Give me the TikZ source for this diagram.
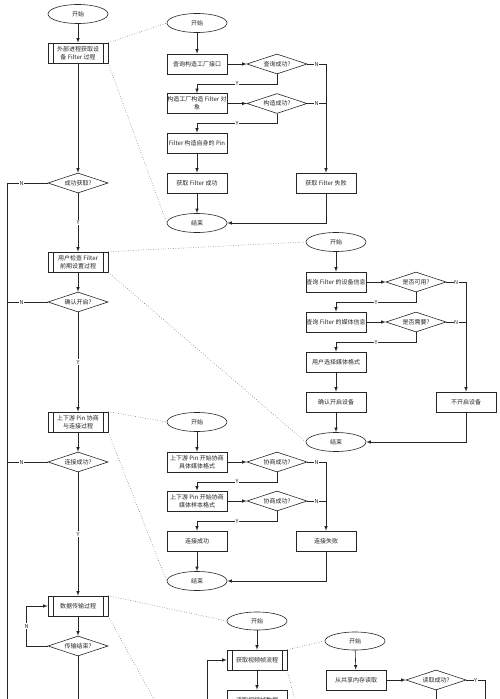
\documentclass[tikz,border=0pt]{standalone}
\usepackage{fontspec}
\newfontfamily\cjk{Noto Sans CJK SC}
\usetikzlibrary{
  shapes.geometric,%
  arrows,
  calc
}
\tikzset{>=latex}
\tikzset{
  proc/.style={draw, rectangle, minimum width=60pt, minimum height=20pt,
    inner sep=0.5pt, align=center, fill=white},
  subproc/.style={proc, path picture={
      \draw ([xshift=5pt]path picture bounding box.north west)
        -- ([xshift=5pt]path picture bounding box.south west);
      \draw ([xshift=-5pt]path picture bounding box.north east)
        -- ([xshift=-5pt]path picture bounding box.south east);}},
  term/.style={draw, ellipse, minimum width=60pt, minimum height=19pt, inner sep=0pt},
  decide/.style={draw, diamond, aspect=3, minimum width=60pt, minimum height=20pt,
    inner sep=0pt},
  lbl/.style={fill=white, inner sep=0.6pt, font=\cjk\fontsize{5.5}{6}\selectfont},
  link/.style={dotted, line width=0.5pt, black!70},
}

\begin{document}
\begin{tikzpicture}[x=1pt, y=-1pt, line width=0.6pt, color=black!85,
    font=\cjk\fontsize{6}{8}\selectfont]
  \useasboundingbox[fill=white] (0,0) rectangle (500,699);
  \coordinate (rail) at (7.5,183);
  \coordinate (bot) at (0,712);

  % main process
  \node[term] (s1) at (78,14) {开始};
  \node[subproc] (p1) at (78,53) {外部进程获取设\\备 Filter 过程};
  \node[decide] (q1) at (78,183) {成功获取?};
  \node[subproc] (p2) at (78,262) {用户检查 Filter\\前期设置过程};
  \node[decide] (q2) at (78,302) {确认开启?};
  \node[subproc] (p3) at (78,422) {上下游 Pin 协商\\与连接过程};
  \node[decide] (q3) at (78,462) {连接成功?};
  \node[subproc] (p4) at (78,606) {数据传输过程};
  \node[decide] (q4) at (78,646) {传输结束?};

  \draw[->] (s1) -- (p1);
  \draw[->] (p1) -- (q1);
  \draw[->] (q1) -- node[lbl]{Y} (p2);
  \draw[->] (p2) -- (q2);
  \draw[->] (q2) -- node[lbl]{Y} (p3);
  \draw[->] (p3) -- (q3);
  \draw[->] (q3) -- node[lbl]{Y} (p4);
  \draw[->] (p4) -- (q4);
  \draw (q4) -- (q4 |- bot);
  \draw (q1.west) -- node[lbl,pos=.65]{N} (q1.west -| rail) -- (rail |- bot);
  \draw (q2.west) -- node[lbl,pos=.65]{N} (q2.west -| rail);
  \draw (q3.west) -- node[lbl,pos=.65]{N} (q3.west -| rail);
  \draw[->] (q4.west) -- ++(-21,0) |- node[lbl,pos=.25]{N} (p4.west);

  % getting the filter
  \node[term] (a0) at (197,23) {开始};
  \node[proc] (a1) at (197,64) {查询构造工厂接口};
  \node[decide] (ac1) at (277,64) {查询成功?};
  \node[proc] (a2) at (197,103.5) {构造工厂构造 Filter 对\\象};
  \node[decide] (ac2) at (277,103.5) {构造成功?};
  \node[proc] (a3) at (197,143) {Filter 构造自身的 Pin};
  \node[proc] (a4) at (197,183) {获取 Filter 成功};
  \node[proc] (a5) at (326,183) {获取 Filter 失败};
  \node[term] (a6) at (197,223) {结束};

  \draw[->] (a0) -- (a1);
  \draw[->] (a1) -- (ac1);
  \draw[->] (ac1.south) -- ++(0,9.5) -| node[lbl,pos=.25]{Y} (a2.north);
  \draw[->] (a2) -- (ac2);
  \draw[->] (ac2.south) -- ++(0,9.5) -| node[lbl,pos=.25]{Y} (a3.north);
  \draw[->] (a3) -- (a4);
  \draw[->] (a4) -- (a6);
  \draw[->] (ac1.east) -- node[lbl]{N} (ac1.east -| a5.north) -- (a5.north);
  \draw (ac2.east) -- node[lbl]{N} (ac2.east -| a5.north);
  \draw[->] (a5.south) |- (a6.east);

  % user settings
  \node[term] (b0) at (336,242) {开始};
  \node[proc] (b1) at (336,282) {查询 Filter 的设备信息};
  \node[decide] (bc1) at (416,282) {是否可用?};
  \node[proc] (b2) at (336,322) {查询 Filter 的媒体信息};
  \node[decide] (bc2) at (416,322) {是否需要?};
  \node[proc] (b3) at (336,362) {用户选择媒体格式};
  \node[proc] (b4) at (336,402) {确认开启设备};
  \node[proc] (b5) at (466,402) {不开启设备};
  \node[term] (b6) at (336,442) {结束};

  \draw[->] (b0) -- (b1);
  \draw[->] (b1) -- (bc1);
  \draw[->] (bc1.south) -- ++(0,10) -| node[lbl,pos=.25]{Y} (b2.north);
  \draw[->] (b2) -- (bc2);
  \draw[->] (bc2.south) -- ++(0,10) -| node[lbl,pos=.25]{Y} (b3.north);
  \draw[->] (b3) -- (b4);
  \draw[->] (b4) -- (b6);
  \draw[->] (bc1.east) -- node[lbl]{N} (bc1.east -| b5.north) -- (b5.north);
  \draw (bc2.east) -- node[lbl]{N} (bc2.east -| b5.north);
  \draw[->] (b5.south) |- (b6.east);

  % pin negotiation
  \node[term] (c0) at (197,422) {开始};
  \node[proc] (c1) at (197,462) {上下游 Pin 开始协商\\具体媒体格式};
  \node[decide] (cc1) at (277,462) {协商成功?};
  \node[proc] (c2) at (197,501) {上下游 Pin 开始协商\\媒体样本格式};
  \node[decide] (cc2) at (277,501) {协商成功?};
  \node[proc] (c3) at (197,541) {连接成功};
  \node[proc] (c4) at (326,541) {连接失败};
  \node[term] (c5) at (197,581) {结束};

  \draw[->] (c0) -- (c1);
  \draw[->] (c1) -- (cc1);
  \draw[->] (cc1.south) -- ++(0,9.5) -| node[lbl,pos=.25]{Y} (c2.north);
  \draw[->] (c2) -- (cc2);
  \draw[->] (cc2.south) -- ++(0,10) -| node[lbl,pos=.25]{Y} (c3.north);
  \draw[->] (c3) -- (c5);
  \draw[->] (cc1.east) -- node[lbl]{N} (cc1.east -| c4.north) -- (c4.north);
  \draw (cc2.east) -- node[lbl]{N} (cc2.east -| c4.north);
  \draw[->] (c4.south) |- (c5.east);

  % data transfer
  \coordinate (p4out) at (161,712);
  \coordinate (d1in) at (207,712);
  \coordinate (d1out) at (298,712);
  \node[term, minimum height=18pt] (d0) at (257,621) {开始};
  \node[subproc] (d1) at (257,660) {获取视频帧流程};
  \node[proc] (d2) at (257,700) {读取视频帧数据};

  \draw[->] (d0) -- (d1);
  \draw[->] (d1) -- (d2);
  \draw[->] (d1in) |- (d1.west);

  \coordinate (eY) at (485,712);
  \node[term, minimum height=18pt] (e0) at (355,641) {开始};
  \node[proc] (e1) at (356,680) {从共享内存读取};
  \node[decide] (ec1) at (436,680) {读取成功?};

  \draw[->] (e0) -- (e1);
  \draw[->] (e1) -- (ec1);
  \draw (ec1.east) -- node[lbl]{Y} (ec1.east -| eY) -- (eY);
  \draw (ec1.south) -- (ec1.south |- eY);

  % links to the sub-processes
  \draw[link] (p1.north east) -- (a0.west);
  \draw[link] (p1.south east) -- (a6.west);
  \draw[link] (p2.north east) -- (b0.west);
  \draw[link] (p2.south east) -- (b6.west);
  \draw[link] (p3.north east) -- (c0.west);
  \draw[link] (p3.south east) -- (c5.west);
  \draw[link] (p4.north east) -- (d0.west);
  \draw[link] (p4.south east) -- (p4out);
  \draw[link] (d1.north east) -- (e0.west);
  \draw[link] (d1.south east) -- (d1out);
\end{tikzpicture}
\end{document}
